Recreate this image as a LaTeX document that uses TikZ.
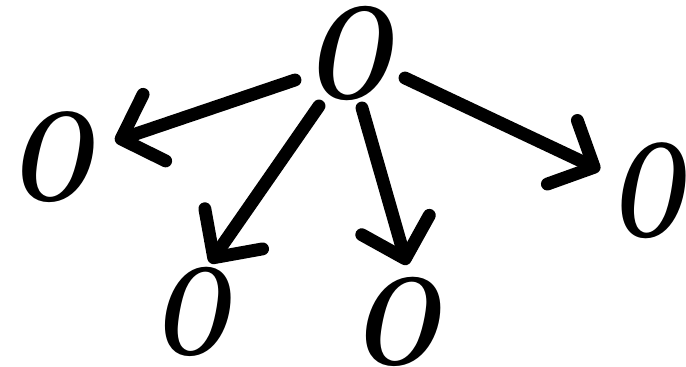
\documentclass[tikz,border=0pt]{standalone}
\usetikzlibrary{arrows.meta,calc}
\newcommand{\letterO}[2]{\fontsize{#1}{#1}\selectfont\bfseries\itshape\scalebox{#2}[1]{O}}
\begin{document}
\begin{tikzpicture}[x=0.03cm,y=-0.03cm,
  letter/.style={inner sep=0pt},
  arr/.style={line width=11pt,line cap=round,line join=round,-{Straight Barb[length=30pt,width=60pt,line cap=round,line join=round]}}]
\useasboundingbox (0,0) rectangle (686,367);
\node[letter] (top) at (347,53) {\letterO{112}{0.8}};
\node[letter] (left) at (50,157) {\letterO{108}{0.8}};
\node[letter] (bl) at (190,312) {\letterO{106}{0.75}};
\node[letter] (bm) at (395,322) {\letterO{106}{0.85}};
\node[letter] (right) at (646,191) {\letterO{114}{0.68}};
\draw[arr] ($(top)+(-52,27)$) -- ($(left)+(65,-16)$);
\draw[arr] ($(top)+(-28,53)$) -- ($(bl)+(20,-49)$);
\draw[arr] ($(top)+(15,55)$) -- ($(bm)+(12,-57)$);
\draw[arr] ($(top)+(58,25)$) -- ($(right)+(-46,-21)$);
\end{tikzpicture}
\end{document}
